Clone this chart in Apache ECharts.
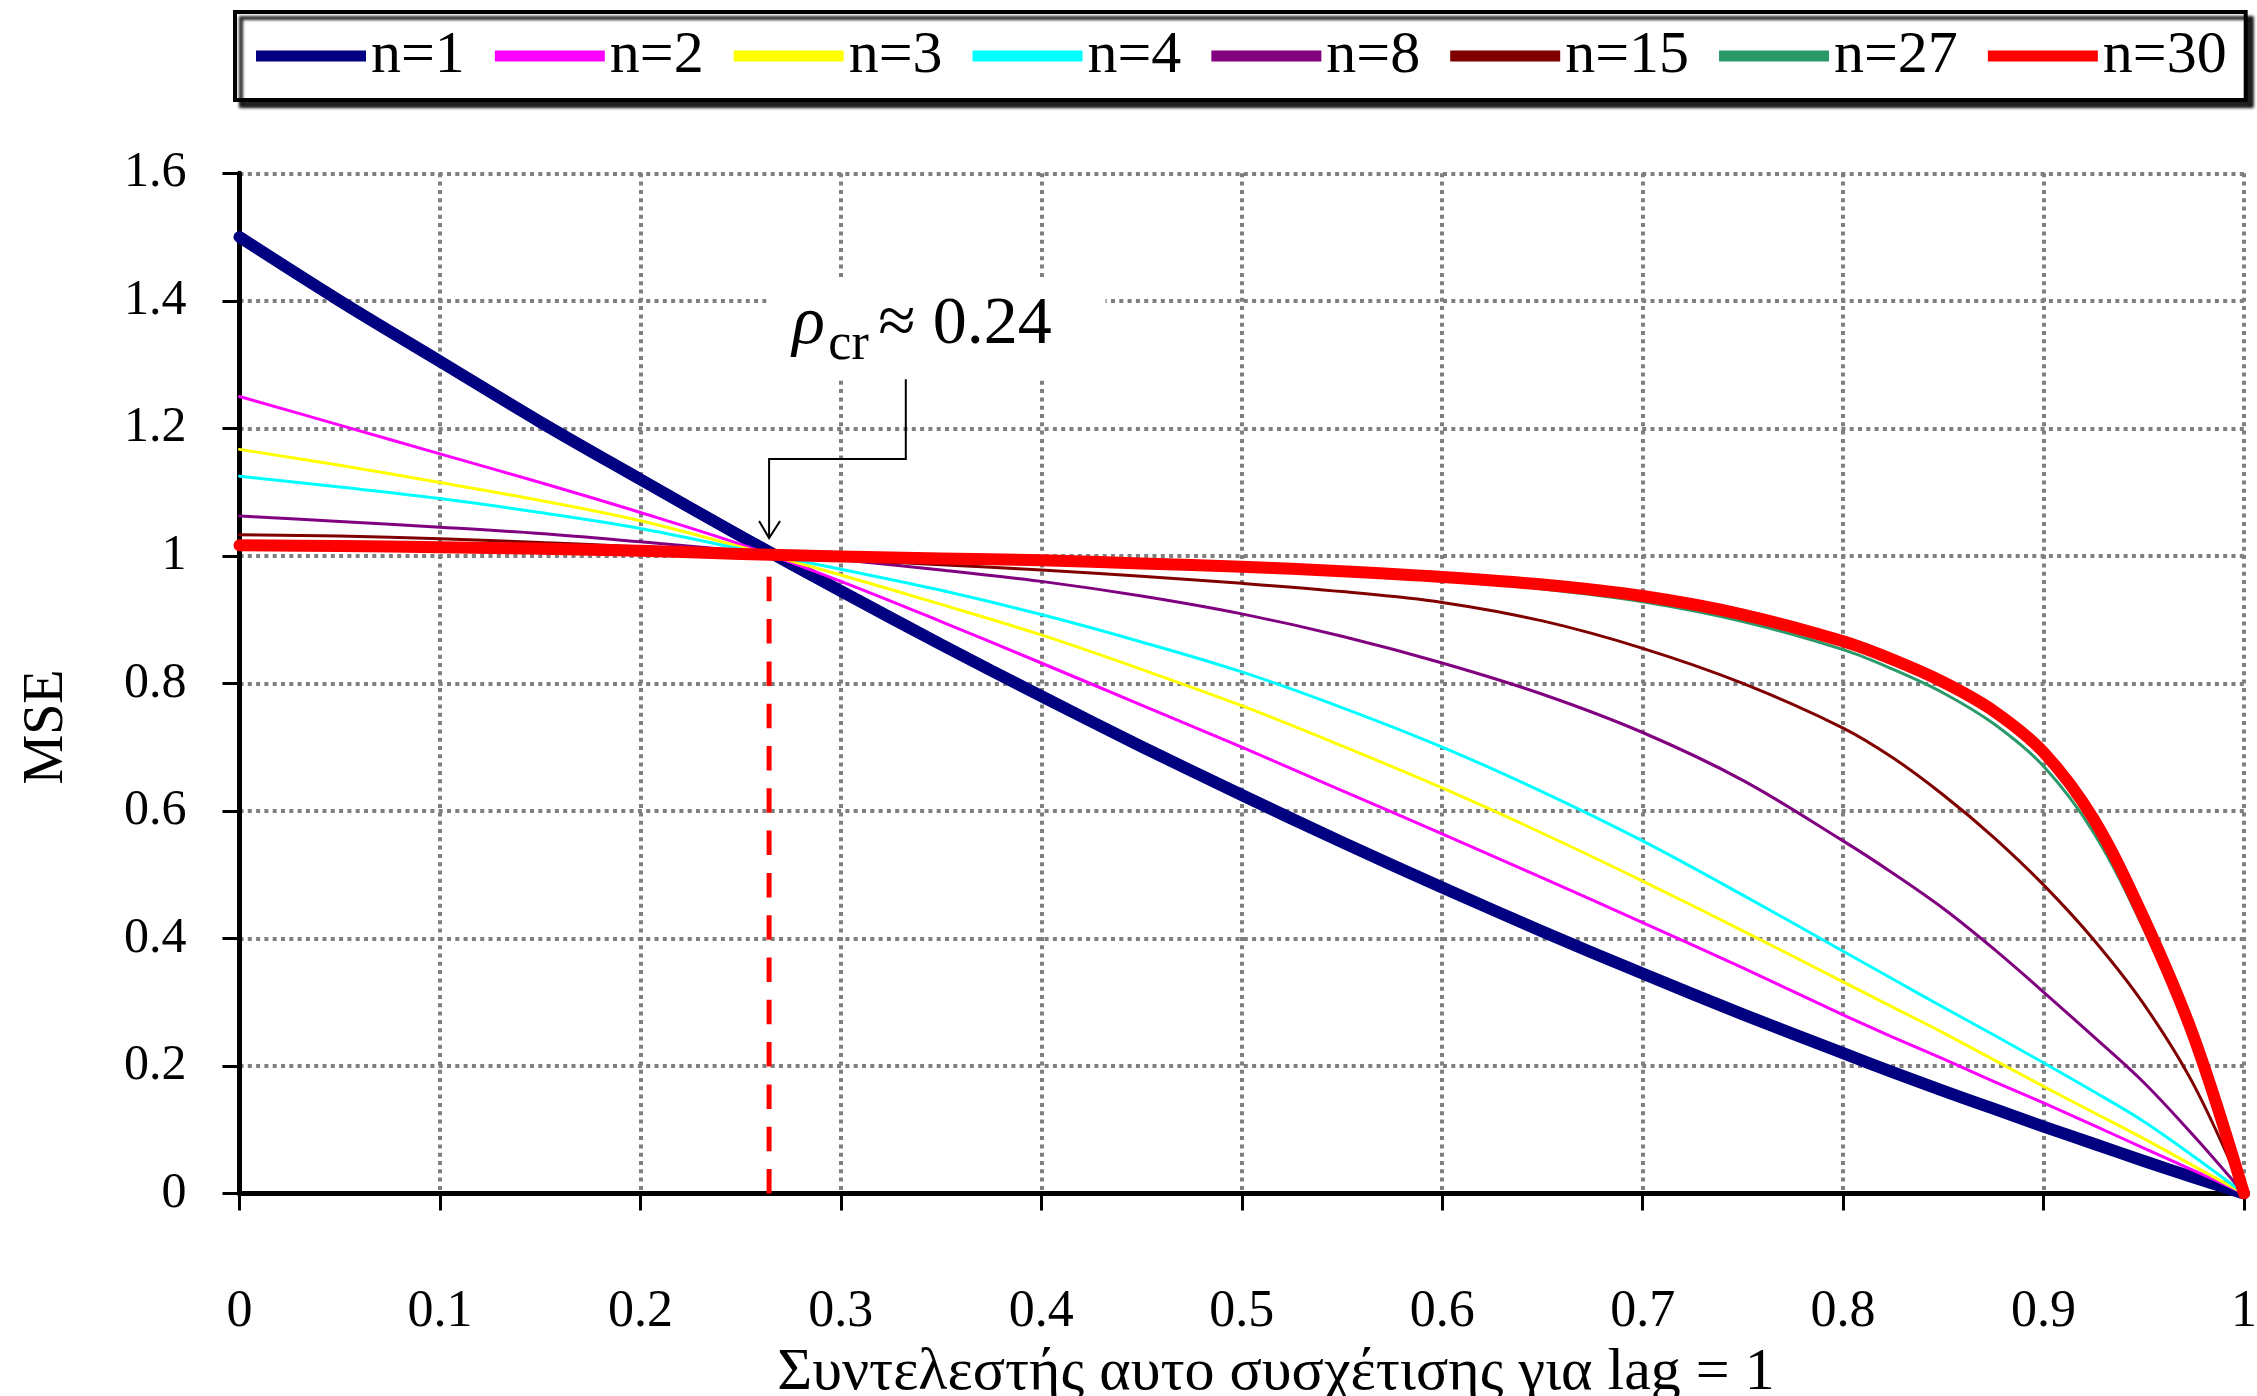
<!DOCTYPE html>
<html>
<head>
<meta charset="utf-8">
<script src="https://cdn.jsdelivr.net/npm/echarts@6/dist/echarts.min.js"></script>
<style>
  html, body { margin: 0; padding: 0; background: #ffffff; }
  #chart { width: 2257px; height: 1396px; }
</style>
</head>
<body>
<div id="chart"></div>
<script>
// Lag-1 autocorrelation values at which each MSE curve is sampled
const rho = [0, 0.05, 0.1, 0.15, 0.2, 0.25, 0.3, 0.35, 0.4, 0.45, 0.5, 0.55, 0.6, 0.65, 0.7,
             0.75, 0.8, 0.825, 0.85, 0.875, 0.9, 0.925, 0.95, 0.975, 1];

// MSE for each aggregation length n
const mseN1  = [1.500, 1.400, 1.305, 1.210, 1.120, 1.031, 0.945, 0.861, 0.780, 0.701, 0.625, 0.551, 0.480, 0.411,
                0.345, 0.281, 0.220, 0.190, 0.161, 0.133, 0.105, 0.078, 0.051, 0.025, 0];
const mseN2  = [1.250, 1.205, 1.160, 1.115, 1.068, 1.018, 0.960, 0.897, 0.832, 0.766, 0.700, 0.632, 0.564, 0.495,
                0.425, 0.354, 0.280, 0.245, 0.211, 0.176, 0.142, 0.107, 0.071, 0.036, 0];
const mseN3  = [1.167, 1.142, 1.115, 1.087, 1.055, 1.014, 0.970, 0.924, 0.876, 0.822, 0.765, 0.702, 0.636, 0.565,
                0.490, 0.412, 0.332, 0.292, 0.252, 0.210, 0.168, 0.127, 0.086, 0.043, 0];
const mseN4  = [1.125, 1.108, 1.090, 1.068, 1.043, 1.011, 0.979, 0.946, 0.908, 0.865, 0.818, 0.762, 0.700, 0.630,
                0.553, 0.468, 0.380, 0.336, 0.292, 0.249, 0.205, 0.160, 0.113, 0.058, 0];
const mseN8  = [1.0625, 1.054, 1.045, 1.035, 1.022, 1.008, 0.994, 0.978, 0.960, 0.937, 0.909, 0.874, 0.832, 0.783,
                0.723, 0.648, 0.553, 0.502, 0.447, 0.384, 0.316, 0.246, 0.174, 0.090, 0];
const mseN15 = [1.033, 1.031, 1.027, 1.021, 1.014, 1.004, 0.994, 0.986, 0.978, 0.968, 0.957, 0.944, 0.927, 0.898,
                0.855, 0.800, 0.730, 0.683, 0.625, 0.559, 0.484, 0.398, 0.297, 0.170, 0];
const mseN27 = [1.0185, 1.017, 1.015, 1.012, 1.009, 1.003, 0.999, 0.995, 0.991, 0.986, 0.980, 0.972, 0.962, 0.948,
                0.928, 0.897, 0.853, 0.822, 0.785, 0.737, 0.670, 0.566, 0.415, 0.232, 0];
const mseN30 = [1.0167, 1.0155, 1.0135, 1.011, 1.008, 1.003, 0.999, 0.996, 0.993, 0.988, 0.983, 0.976, 0.967, 0.955,
                0.937, 0.908, 0.866, 0.837, 0.802, 0.757, 0.692, 0.587, 0.432, 0.245, 0];

const seriesNames = ['n=1', 'n=2', 'n=3', 'n=4', 'n=8', 'n=15', 'n=27', 'n=30'];
const seriesValues = [mseN1, mseN2, mseN3, mseN4, mseN8, mseN15, mseN27, mseN30];

// Tick labels
const xTickLabels = ['0', '0.1', '0.2', '0.3', '0.4', '0.5', '0.6', '0.7', '0.8', '0.9', '1'];
const yTickLabels = ['0', '0.2', '0.4', '0.6', '0.8', '1', '1.2', '1.4', '1.6'];

// Critical autocorrelation where all curves meet MSE = 1
const rhoCritical = 0.2642;
const criticalLevel = 1.0;
const criticalLabel = '≈ 0.24';

// Series appearance
const seriesColors = ['#000080', '#ff00ff', '#ffff00', '#00ffff', '#800080', '#800000', '#2a9a6a', '#ff0000'];
const seriesWidths = [12, 3, 3, 3, 3, 3, 3, 12];
const legendWidths = [15, 5, 5, 5, 5, 5, 5, 15];

// Callout geometry in data space
const callout = {
  tipY: 1.028,
  elbowY: 1.152,
  stemX: 0.3324,
  stemTopY: 1.277,
  boxFrom: [0.263, 1.431],
  boxTo: [0.432, 1.279],
  textAt: [0.2758, 1.326]
};

const SERIF = '"Liberation Serif", "Times New Roman", serif';

const chart = echarts.init(document.getElementById('chart'), null, { renderer: 'canvas' });

const lineSeries = seriesNames.map((name, i) => ({
  name: name,
  type: 'line',
  data: rho.map((r, k) => [r, seriesValues[i][k]]),
  showSymbol: false,
  symbol: 'none',
  smooth: 0.35,
  color: seriesColors[i],
  lineStyle: { color: seriesColors[i], width: seriesWidths[i], cap: 'round', join: 'round' },
  emphasis: { disabled: true },
  z: 3
}));

const calloutSeries = {
  type: 'custom',
  name: 'callout',
  data: [[rhoCritical, criticalLevel]],
  encode: { x: 0, y: 1 },
  z: 2,
  silent: true,
  renderItem: function (params, api) {
    const c = v => api.coord(v);
    const dashBottom = c([rhoCritical, 0]);
    const dashTop = c([rhoCritical, criticalLevel]);
    const tip = c([rhoCritical, callout.tipY]);
    const elbowL = c([rhoCritical, callout.elbowY]);
    const elbowR = c([callout.stemX, callout.elbowY]);
    const stemTop = c([callout.stemX, callout.stemTopY]);
    const b0 = c(callout.boxFrom);
    const b1 = c(callout.boxTo);
    const base = c(callout.textAt);
    const mainSize = 68, subSize = 52;
    return {
      type: 'group',
      children: [
        { type: 'line',
          shape: { x1: dashBottom[0], y1: dashBottom[1], x2: dashTop[0], y2: dashTop[1] },
          style: { stroke: '#ff0000', lineWidth: 5, lineDash: [24.5, 17.8] } },
        { type: 'rect',
          shape: { x: b0[0], y: b0[1], width: b1[0] - b0[0], height: b1[1] - b0[1] },
          style: { fill: '#ffffff' } },
        { type: 'polyline',
          shape: { points: [stemTop, elbowR, elbowL, tip] },
          style: { stroke: '#000000', lineWidth: 2, fill: null } },
        { type: 'polyline',
          shape: { points: [[tip[0] - 10, tip[1] - 17], [tip[0], tip[1]], [tip[0] + 11, tip[1] - 17]] },
          style: { stroke: '#000000', lineWidth: 2, fill: null } },
        { type: 'text',
          style: { text: 'ρ', x: base[0], y: base[1] - 0.3375 * mainSize,
                   fontFamily: SERIF, fontSize: mainSize, fontStyle: 'italic',
                   fill: '#000000', align: 'left', verticalAlign: 'middle' } },
        { type: 'text',
          style: { text: 'cr', x: base[0] + 36, y: base[1] + 15 - 0.3375 * subSize,
                   fontFamily: SERIF, fontSize: subSize,
                   fill: '#000000', align: 'left', verticalAlign: 'middle' } },
        { type: 'text',
          style: { text: criticalLabel, x: base[0] + 86, y: base[1] - 0.3375 * mainSize,
                   fontFamily: SERIF, fontSize: mainSize,
                   fill: '#000000', align: 'left', verticalAlign: 'middle' } }
      ]
    };
  }
};

const gridLine = { color: '#7f7f80', width: 4, type: [4, 4.3] };

chart.setOption({
  animation: false,
  backgroundColor: '#ffffff',
  grid: {
    left: 239.5, right: 13, top: 173.3, bottom: 202.5,
    containLabel: false, outerBoundsMode: 'none'
  },
  legend: {
    left: 235, top: 12,
    padding: [14, 19, 14, 21],
    itemGap: 30,
    itemWidth: 110,
    itemHeight: 20,
    backgroundColor: '#ffffff',
    borderColor: '#000000',
    borderWidth: 4,
    borderRadius: 0,
    shadowColor: 'rgba(0,0,0,0.85)',
    shadowBlur: 3,
    shadowOffsetX: 6,
    shadowOffsetY: 6,
    selectedMode: false,
    textStyle: { fontFamily: SERIF, fontSize: 60, color: '#000000', lineHeight: 60 },
    data: seriesNames.map((name, i) => ({
      name: name,
      icon: 'path://M0,0H100V10H0Z',
      itemStyle: { color: seriesColors[i] },
      lineStyle: { width: legendWidths[i] }
    }))
  },
  xAxis: {
    type: 'value',
    min: 0, max: 1, interval: 0.1,
    axisLine: { show: true, onZero: false, lineStyle: { color: '#000000', width: 5 } },
    axisTick: { show: true, inside: false, length: 17, lineStyle: { color: '#000000', width: 3 } },
    axisLabel: {
      margin: 119, verticalAlign: 'middle',
      fontFamily: SERIF, fontSize: 52, color: '#000000',
      formatter: (v, i) => xTickLabels[i]
    },
    splitLine: { show: true, lineStyle: gridLine }
  },
  yAxis: {
    type: 'value',
    min: 0, max: 1.6, interval: 0.2,
    axisLine: { show: true, onZero: false, lineStyle: { color: '#000000', width: 5 } },
    axisTick: { show: true, inside: false, length: 17, lineStyle: { color: '#000000', width: 3 } },
    axisLabel: {
      margin: 53,
      fontFamily: SERIF, fontSize: 50, color: '#000000',
      formatter: (v, i) => yTickLabels[i]
    },
    splitLine: { show: true, lineStyle: gridLine }
  },
  graphic: [
    { type: 'text', x: 1276, y: 1373,
      style: { text: 'Συντελεστής αυτο συσχέτισης για lag = 1', fontFamily: SERIF, fontSize: 60,
               fill: '#000000', align: 'center', verticalAlign: 'middle' } },
    { type: 'text', x: 47, y: 727, rotation: Math.PI / 2,
      style: { text: 'MSE', fontFamily: SERIF, fontSize: 56,
               fill: '#000000', align: 'center', verticalAlign: 'middle' } }
  ],
  series: [calloutSeries].concat(lineSeries)
});
</script>
</body>
</html>
